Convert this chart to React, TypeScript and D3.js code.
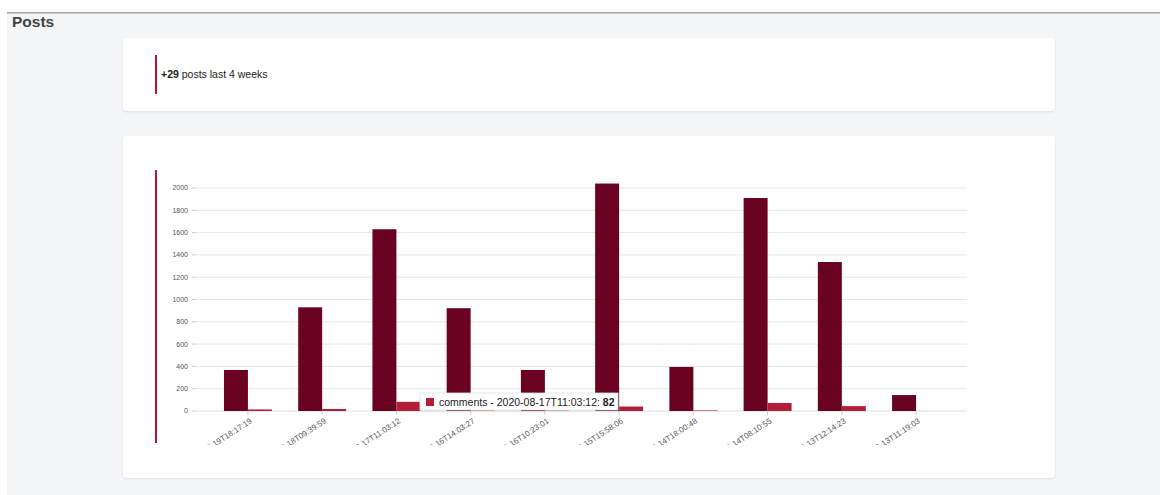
import React from "react";
import * as d3 from "d3";

const categories = [
  "2020-08-19T18:17:19",
  "2020-08-18T09:39:59",
  "2020-08-17T11:03:12",
  "2020-08-16T14:03:27",
  "2020-08-16T10:23:01",
  "2020-08-15T15:58:06",
  "2020-08-14T18:00:48",
  "2020-08-14T08:10:55",
  "2020-08-13T12:14:23",
  "2020-08-13T11:19:03",
];
const postsValues = [368, 930, 1630, 922, 368, 2040, 395, 1910, 1336, 143];
const commentsValues = [14, 18, 82, 4, 4, 40, 5, 72, 44, 0];
const yTicks = [0, 200, 400, 600, 800, 1000, 1200, 1400, 1600, 1800, 2000];
const seriesNames = ["posts", "comments"];
const summaryCount = "+29";
const summaryText = " posts last 4 weeks";
const tooltipIndex = 2;

const W = 1160;
const H = 495;
const FONT = "'Liberation Sans', Arial, Helvetica, sans-serif";
const DARK = "#6a0321";
const LIGHT = "#b31f38";
const ACCENT = "#b5173c";

export default function App() {
  const y = d3.scaleLinear().domain([0, 2000]).range([411, 188]);
  const x0 = d3
    .scaleBand<string>()
    .domain(categories)
    .range([195, 969])
    .paddingInner(0.354)
    .paddingOuter(0.39);
  const x1 = d3
    .scaleBand<string>()
    .domain(seriesNames)
    .range([0, x0.bandwidth()]);

  const gridX0 = 196;
  const gridX1 = 967;

  const tipCat = categories[tooltipIndex];
  const tipVal = commentsValues[tooltipIndex];

  return (
    <div style={{ position: "absolute", left: 0, top: 0 }}>
      <svg width={W} height={H} style={{ display: "block" }}>
        <defs>
          <clipPath id="chartClip">
            <rect x={150} y={160} width={900} height={285} />
          </clipPath>
          <filter id="shadow" x="-10%" y="-10%" width="120%" height="140%">
            <feDropShadow dx="0" dy="1" stdDeviation="1" floodColor="#000" floodOpacity="0.08" />
          </filter>
        </defs>
        <rect x={0} y={0} width={W} height={H} fill="#ffffff" />
        <rect x={7} y={13} width={W - 7} height={H - 13} fill="#f4f5f7" />
        <rect x={7} y={12} width={W - 7} height={1.5} fill="#a9a9a9" />
        <text x={12} y={27} fontFamily={FONT} fontWeight="bold" fontSize={15.5} fill="#3f4447">
          Posts
        </text>

        {/* summary card */}
        <rect x={123} y={38} width={932} height={73} rx={4} fill="#ffffff" filter="url(#shadow)" />
        <rect x={155} y={55} width={2} height={39} fill={ACCENT} />
        <text x={161} y={78} fontFamily={FONT} fontSize={10.5} fill="#222">
          <tspan fontWeight="bold">{summaryCount}</tspan>
          <tspan>{summaryText}</tspan>
        </text>

        {/* chart card */}
        <rect x={123} y={136} width={932} height={342} rx={4} fill="#ffffff" filter="url(#shadow)" />
        <rect x={155} y={170} width={2} height={273} fill={ACCENT} />

        <g clipPath="url(#chartClip)">
          {/* grid */}
          {yTicks.map((t) => (
            <g key={t}>
              <line x1={gridX0} x2={gridX1} y1={y(t)} y2={y(t)} stroke={t === 0 ? "#dcdcdc" : "#e8e8e8"} strokeWidth={1} />
              <line x1={192} x2={196} y1={y(t)} y2={y(t)} stroke="#cfcfcf" strokeWidth={1} />
              <text x={188} y={y(t)} dy="0.35em" textAnchor="end" fontFamily={FONT} fontSize={7} fill="#555">
                {t}
              </text>
            </g>
          ))}

          {/* bars */}
          {categories.map((c, i) => {
            const gx = x0(c)!;
            return (
              <g key={c} transform={`translate(${gx},0)`}>
                <rect x={x1("posts")!} y={y(postsValues[i])} width={x1.bandwidth()} height={y(0) - y(postsValues[i])} fill={DARK} />
                <rect x={x1("comments")!} y={y(commentsValues[i])} width={x1.bandwidth()} height={y(0) - y(commentsValues[i])} fill={LIGHT} />
              </g>
            );
          })}

          {/* x ticks + labels */}
          {categories.map((c) => {
            const cx = x0(c)! + x0.bandwidth() / 2;
            return (
              <g key={"t" + c}>
                <line x1={cx} x2={cx} y1={411} y2={415} stroke="#cfcfcf" strokeWidth={1} />
                <text
                  transform={`translate(${cx + 3},${420}) rotate(-33)`}
                  textAnchor="end"
                  dy="0.35em"
                  fontFamily={FONT}
                  fontSize={8}
                  fill="#555"
                >
                  {c}
                </text>
              </g>
            );
          })}
        </g>

        {/* tooltip */}
        <g>
          <rect x={420} y={393} width={198} height={17} fill="#ffffff" stroke="#e0e0e0" strokeWidth={0.8} filter="url(#shadow)" />
          <rect x={426} y={398} width={8} height={8} fill={LIGHT} />
          <text x={439} y={405.5} fontFamily={FONT} fontSize={10.5} fill="#222">
            <tspan>{`comments - ${tipCat}: `}</tspan>
            <tspan fontWeight="bold">{tipVal}</tspan>
          </text>
        </g>
      </svg>
    </div>
  );
}
